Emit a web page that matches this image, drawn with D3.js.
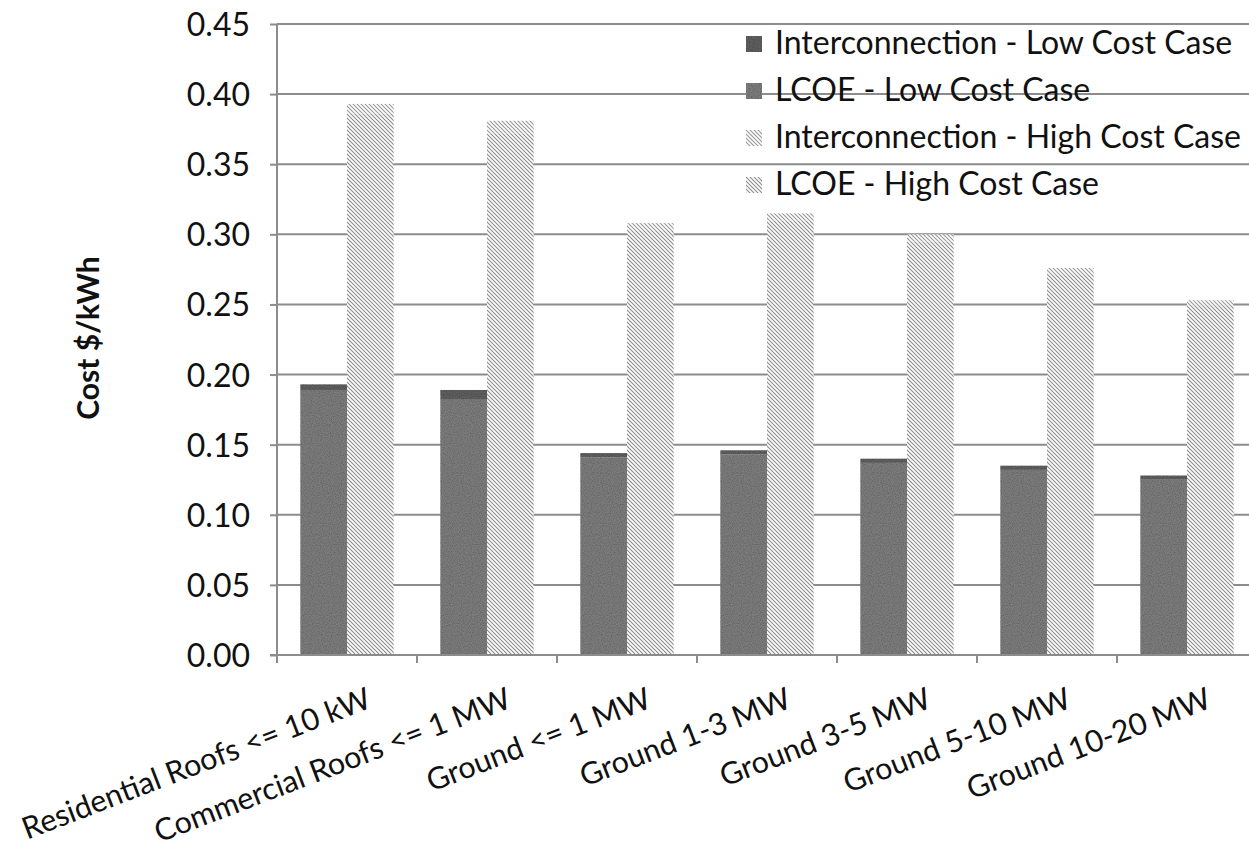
<!DOCTYPE html>
<html>
<head>
<meta charset="utf-8">
<script src="https://cdn.jsdelivr.net/npm/d3@7"></script>
<style>
  html, body { margin: 0; padding: 0; background: #fff; }
  svg { display: block; }
  text { font-family: Lato, "Open Sans", sans-serif; fill: #111; }
</style>
</head>
<body>
<svg id="chart" width="1249" height="848"></svg>
<script>
// Installation classes along the x axis
const categories = [
  "Residential Roofs <= 10 kW",
  "Commercial Roofs <= 1 MW",
  "Ground <= 1 MW",
  "Ground 1-3 MW",
  "Ground 3-5 MW",
  "Ground 5-10 MW",
  "Ground 10-20 MW"
];

// Cost components, $/kWh
const lcoeLow          = [0.189, 0.182, 0.141, 0.143, 0.137, 0.132, 0.125];
const interconnectLow  = [0.004, 0.007, 0.003, 0.003, 0.003, 0.003, 0.003];
const lcoeHigh         = [0.386, 0.372, 0.303, 0.310, 0.295, 0.271, 0.249];
const interconnectHigh = [0.007, 0.009, 0.005, 0.005, 0.005, 0.005, 0.004];

const yTicks = [0, 0.05, 0.10, 0.15, 0.20, 0.25, 0.30, 0.35, 0.40, 0.45];

const seriesNames = [
  "Interconnection - Low Cost Case",
  "LCOE - Low Cost Case",
  "Interconnection - High Cost Case",
  "LCOE - High Cost Case"
];

const svg = d3.select("#chart");
const plotLeft = 277, plotRight = 1257, plotTop = 24, plotBottom = 655;

const x = d3.scaleBand().domain(categories).range([plotLeft, plotRight]).padding(0);
const bw = x.bandwidth();
const xSub = d3.scaleBand().domain(["low", "high"]).range([bw / 6, bw * 5 / 6]).padding(0);
const y = d3.scaleLinear().domain([0, 0.45]).range([plotBottom, plotTop]);

// Fill patterns
const defs = svg.append("defs");
function hatch(id, color) {
  const p = defs.append("pattern")
    .attr("id", id).attr("patternUnits", "userSpaceOnUse")
    .attr("width", 4).attr("height", 4);
  p.append("rect").attr("width", 4).attr("height", 4).attr("fill", "#fff");
  p.append("path")
    .attr("d", "M-1,-1 L5,5 M-1,3 L1,5 M3,-1 L5,1")
    .attr("stroke", color).attr("stroke-width", 1.1);
}
hatch("hatchLcoeHigh", "#8a8a8a");
hatch("hatchIntHigh", "#999");

const grain = defs.append("filter").attr("id", "grain")
  .attr("x", 0).attr("y", 0).attr("width", 1).attr("height", 1);
grain.append("feTurbulence").attr("type", "fractalNoise")
  .attr("baseFrequency", 0.9).attr("numOctaves", 1).attr("seed", 3).attr("result", "n");
grain.append("feColorMatrix").attr("in", "n").attr("type", "matrix")
  .attr("values", "0 0 0 0 0  0 0 0 0 0  0 0 0 0 0  0 0 0 -0.9 0.55").attr("result", "a");
grain.append("feComposite").attr("in", "a").attr("in2", "SourceGraphic").attr("operator", "in").attr("result", "d");
const gm = grain.append("feMerge");
gm.append("feMergeNode").attr("in", "SourceGraphic");
gm.append("feMergeNode").attr("in", "d");

const fills = ["#5f5f5f", "#7b7b7b", "url(#hatchIntHigh)", "url(#hatchLcoeHigh)"];

// Gridlines
svg.append("g").selectAll("line")
  .data(yTicks.filter(d => d > 0))
  .join("line")
  .attr("x1", plotLeft).attr("x2", plotRight)
  .attr("y1", d => y(d)).attr("y2", d => y(d))
  .attr("stroke", "#8c8c8c").attr("stroke-width", 2);

// Stacked bars: LCOE at the base, interconnection on top
const rows = categories.map((c, i) => ({
  cat: c,
  low: [
    { y0: 0, y1: lcoeLow[i], fill: fills[1] },
    { y0: lcoeLow[i], y1: lcoeLow[i] + interconnectLow[i], fill: fills[0] }
  ],
  high: [
    { y0: 0, y1: lcoeHigh[i], fill: fills[3] },
    { y0: lcoeHigh[i], y1: lcoeHigh[i] + interconnectHigh[i], fill: fills[2] }
  ]
}));

const groups = svg.append("g").selectAll("g")
  .data(rows).join("g")
  .attr("transform", d => `translate(${x(d.cat)},0)`);

["low", "high"].forEach(k => {
  groups.selectAll("rect." + k)
    .data(d => d[k])
    .join("rect")
    .attr("class", k)
    .attr("x", xSub(k))
    .attr("width", xSub.bandwidth())
    .attr("y", s => y(s.y1))
    .attr("height", s => y(s.y0) - y(s.y1))
    .attr("fill", s => s.fill)
    .attr("filter", k === "low" ? "url(#grain)" : null);
});

// Y axis
const yAxis = svg.append("g")
  .attr("transform", `translate(${plotLeft},0)`)
  .call(d3.axisLeft(y).tickValues(yTicks).tickFormat(d3.format(".2f")).tickSize(7).tickPadding(20));
yAxis.select(".domain").attr("stroke", "#8c8c8c").attr("stroke-width", 2).attr("d", `M0,${plotTop}V${plotBottom + 6}`);
yAxis.selectAll(".tick line").attr("stroke", "#8c8c8c").attr("stroke-width", 2);
yAxis.selectAll(".tick text").style("font-size", "32px").attr("fill", "#111").attr("dy", "0.36em");

// X axis
const xAxis = svg.append("g").attr("transform", `translate(0,${plotBottom})`);
xAxis.append("line")
  .attr("x1", plotLeft - 7).attr("x2", plotRight)
  .attr("stroke", "#8c8c8c").attr("stroke-width", 2);
xAxis.selectAll("line.tk")
  .data(categories.map(c => x(c)).concat([plotRight]))
  .join("line").attr("class", "tk")
  .attr("x1", d => d).attr("x2", d => d).attr("y1", 0).attr("y2", 8)
  .attr("stroke", "#8c8c8c").attr("stroke-width", 2);

xAxis.selectAll("text.cat")
  .data(categories).join("text").attr("class", "cat")
  .attr("text-anchor", "end")
  .attr("transform", c => `translate(${x(c) + bw / 2 + 26},${52}) rotate(-21)`)
  .style("font-size", "30.5px")
  .text(c => c);

// Y axis title
svg.append("text")
  .attr("transform", "translate(99,338) rotate(-90)")
  .attr("text-anchor", "middle")
  .style("font-size", "30px").style("font-weight", "bold")
  .text("Cost $/kWh");

// Legend
const legend = svg.append("g").attr("transform", "translate(746,36)");
const li = legend.selectAll("g").data(seriesNames).join("g")
  .attr("transform", (d, i) => `translate(0,${i * 47})`);
li.append("rect").attr("width", 16).attr("height", 16)
  .attr("fill", (d, i) => fills[i])
  .attr("filter", (d, i) => i < 2 ? "url(#grain)" : null);
li.append("text").attr("x", 29).attr("y", 18)
  .style("font-size", "32px")
  .text(d => d);
</script>
</body>
</html>
